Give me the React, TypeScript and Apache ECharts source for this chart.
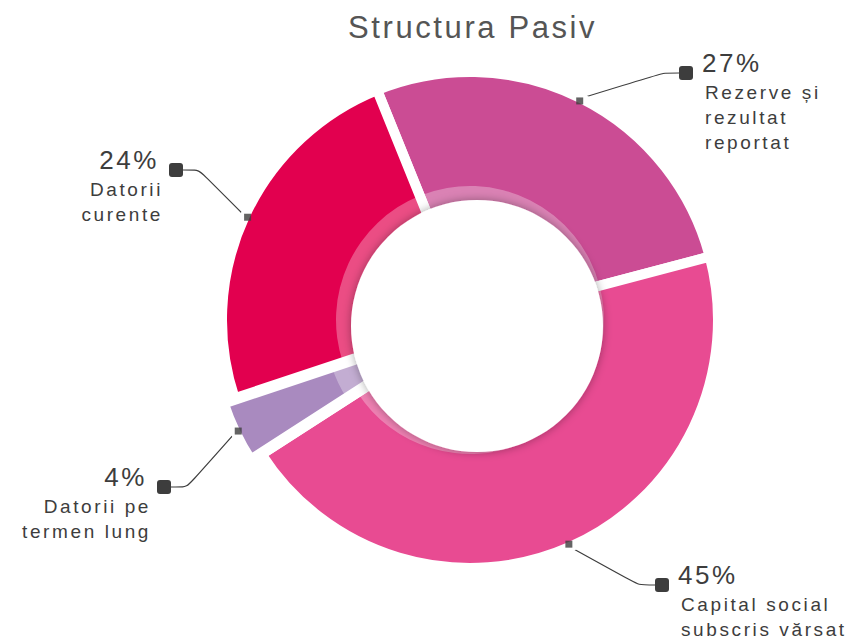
import React, { useEffect, useRef } from 'react';
import * as echarts from 'echarts';

// ---- data ----
const categories = [
  'Rezerve și rezultat reportat',
  'Capital social subscris vărsat',
  'Datorii pe termen lung',
  'Datorii curente',
];
const values = [27, 45, 4, 24];
const nameLines = [
  ['Rezerve și', 'rezultat', 'reportat'],
  ['Capital social', 'subscris vărsat'],
  ['Datorii pe', 'termen lung'],
  ['Datorii', 'curente'],
];
const explodedIndex = 2;
const titleText = 'Structura Pasiv';

// ---- layout / style ----
const COLORS = ['#cb4c94', '#e84b92', '#a98abf', '#e2004f'];
const CENTER = [470, 320];
const OUTER = 248;
const BORDER = 10;
const OFFSET = 12;
const RING = 134;
const START_ANGLE = 112;
const MARK_R = 245;
const RING_COLOR = 'rgba(255,255,255,0.3)';
// end point of each label line (marker outer edge x, marker centre y)
const LABEL_END = [
  [679, 73],
  [655, 585],
  [171, 487],
  [183, 170],
];
const TEXT = '#3d3d3d';
const FONT = 'Liberation Sans';

export default function App() {
  const ref = useRef<HTMLDivElement>(null);
  useEffect(() => {
    const chart = echarts.init(ref.current!, null, { renderer: 'svg' });
    const total = values.reduce((a, b) => a + b, 0);
    const mids: number[] = [];
    let acc = 0;
    values.forEach((v) => {
      mids.push(acc + v / 2);
      acc += v;
    });
    // centre of the exploded slice, moved along its mid angle
    const theta = ((90 - START_ANGLE + (360 * mids[explodedIndex]) / total) * Math.PI) / 180;
    const shiftedCenter = [
      CENTER[0] + OFFSET * Math.sin(theta),
      CENTER[1] - OFFSET * Math.cos(theta),
    ];

    const formatter = (p: any) => {
      const i = p.dataIndex;
      const pct = Math.round(p.percent) + '%';
      const right = LABEL_END[i][0] > CENTER[0];
      const first = right ? `{m|}{pr|${pct}}` : `{pl|${pct}}{m|}`;
      const rest = nameLines[i].map((s) => (right ? `{nr|${s}}` : `{nl|${s}}`));
      return [first, ...rest].join('\n');
    };

    const label = {
      show: true,
      position: 'outside',
      distanceToLabelLine: 0,
      formatter,
      fontFamily: FONT,
      color: TEXT,
      rich: {
        m: {
          width: 14,
          height: 14,
          backgroundColor: TEXT,
          borderRadius: 3,
          verticalAlign: 'bottom',
        },
        pr: { fontSize: 26, lineHeight: 34, color: TEXT, fontFamily: FONT, padding: [0, 0, 0, 9] },
        pl: { fontSize: 26, lineHeight: 34, color: TEXT, fontFamily: FONT, padding: [0, 10, 0, 0] },
        nr: { fontSize: 19, lineHeight: 25, color: TEXT, fontFamily: FONT, padding: [0, 0, 0, 26] },
        nl: { fontSize: 19, lineHeight: 25, color: TEXT, fontFamily: FONT, padding: [0, 20, 0, 0] },
      },
    };
    const labelLine = {
      show: true,
      length: 20,
      length2: 20,
      smooth: 0.2,
      lineStyle: { color: TEXT, width: 1.2 },
    };
    const labelLayout = (params: any) => {
      const i = params.dataIndex;
      const [ex, ey] = LABEL_END[i];
      const right = ex > CENTER[0];
      const start =
        params.labelLinePoints && params.labelLinePoints[0] ? params.labelLinePoints[0] : [ex, ey];
      return {
        x: ex,
        y: ey - 27,
        align: right ? 'left' : 'right',
        verticalAlign: 'top',
        labelLinePoints: [start, [ex + (right ? -16 : 16), ey], [ex, ey]],
      };
    };
    const hidden = {
      itemStyle: { color: 'transparent', borderWidth: 0 },
      label: { show: false },
      labelLine: { show: false },
    };

    const pieBase = {
      type: 'pie',
      startAngle: START_ANGLE,
      clockwise: true,
      avoidLabelOverlap: false,
      emphasis: { disabled: true },
      silent: true,
    };

    const option: any = {
      animation: false,
      title: {
        text: titleText,
        left: 348,
        top: 12,
        padding: 0,
        textStyle: { fontSize: 31, fontWeight: 'normal', color: '#555', fontFamily: FONT },
      },
      polar: { center: CENTER, radius: 300 },
      radiusAxis: { type: 'value', min: 0, max: 300, show: false },
      angleAxis: {
        type: 'value',
        min: 0,
        max: total,
        startAngle: START_ANGLE,
        clockwise: true,
        show: false,
      },
      series: [
        // main ring (all slices but the exploded one)
        {
          ...pieBase,
          center: CENTER,
          radius: [60, OUTER],
          itemStyle: { borderColor: '#fff', borderWidth: BORDER },
          label,
          labelLine,
          labelLayout,
          data: categories.map((n, i) =>
            i === explodedIndex
              ? { name: n, value: values[i], itemStyle: { color: 'transparent', borderColor: '#fff', borderWidth: BORDER }, label: { show: false }, labelLine: { show: false } }
              : { name: n, value: values[i], itemStyle: { color: COLORS[i] } }
          ),
          z: 2,
        },
        // exploded slice
        {
          ...pieBase,
          center: shiftedCenter,
          radius: [60, OUTER],
          itemStyle: { borderColor: '#fff', borderWidth: BORDER },
          label,
          labelLine,
          labelLayout,
          data: categories.map((n, i) =>
            i === explodedIndex
              ? { name: n, value: values[i], itemStyle: { color: COLORS[i] } }
              : { name: n, value: values[i], ...hidden }
          ),
          z: 2,
        },
        // lighter inner band
        {
          ...pieBase,
          center: CENTER,
          radius: [60, RING],
          itemStyle: { color: RING_COLOR, borderWidth: 0 },
          label: { show: false },
          labelLine: { show: false },
          data: categories.map((n, i) =>
            i === explodedIndex ? { name: n, value: values[i], ...hidden } : { name: n, value: values[i] }
          ),
          z: 3,
        },
        {
          ...pieBase,
          center: shiftedCenter,
          radius: [60, RING],
          itemStyle: { color: RING_COLOR, borderWidth: 0 },
          label: { show: false },
          labelLine: { show: false },
          data: categories.map((n, i) =>
            i === explodedIndex ? { name: n, value: values[i] } : { name: n, value: values[i], ...hidden }
          ),
          z: 3,
        },
        // white centre with shadow
        {
          type: 'pie',
          center: [477, 326],
          radius: [0, 126],
          silent: true,
          itemStyle: {
            color: '#fff',
            shadowBlur: 10,
            shadowColor: 'rgba(0,0,0,0.35)',
          },
          emphasis: { disabled: true },
          label: { show: false },
          labelLine: { show: false },
          data: [{ value: 1, name: 'centre' }],
          z: 4,
        },
        // small squares where the label lines leave the slices
        {
          type: 'scatter',
          coordinateSystem: 'polar',
          symbol: 'rect',
          symbolSize: 7,
          silent: true,
          itemStyle: { color: TEXT },
          data: values.map((v, i) => [MARK_R + (i === explodedIndex ? OFFSET : 0), mids[i]]),
          z: 5,
        },
      ],
    };
    chart.setOption(option);
    return () => chart.dispose();
  }, []);
  return (
    <div
      ref={ref}
      style={{
        position: 'fixed',
        left: 0,
        top: 0,
        width: 857,
        height: 644,
        letterSpacing: '2.6px',
        background: '#fff',
      }}
    />
  );
}
